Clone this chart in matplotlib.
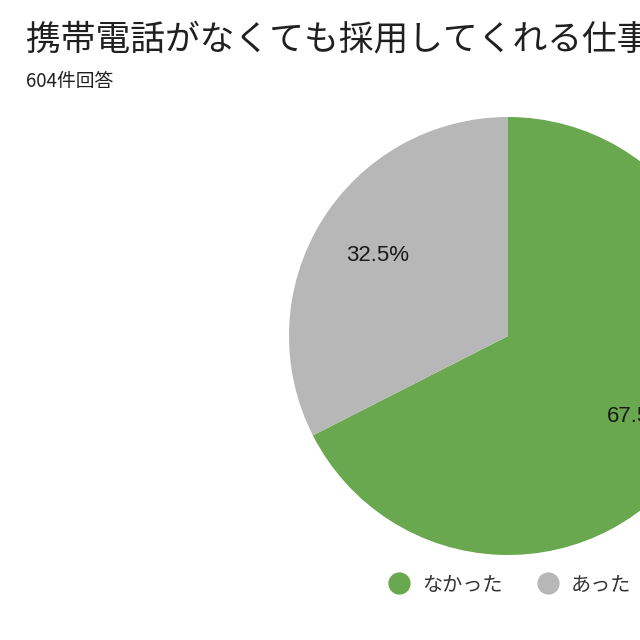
import matplotlib
matplotlib.use("Agg")
import matplotlib.pyplot as plt
from matplotlib.lines import Line2D

plt.rcParams['font.family'] = ['Noto Sans CJK JP', 'DejaVu Sans']

# data
labels = ['なかった', 'あった']
values = [67.5, 32.5]
colors = ['#6aa84f', '#b7b7b7']
title = '携帯電話がなくても採用してくれる仕事'
subtitle = '604件回答'

fig = plt.figure(figsize=(6.4, 6.4), dpi=100)
ax = fig.add_axes([0, 0, 1, 1])

# pie in pixel-like data coords (y up), partly off the right edge
ax.pie(values, colors=colors, startangle=90, counterclock=False,
       center=(508, 304), radius=219, autopct='%1.1f%%', pctdistance=0.70,
       textprops={'fontsize': 16, 'color': '#1a1a1a', 'family': ['Liberation Sans', 'DejaVu Sans']},
       wedgeprops={'linewidth': 0})
ax.set_xlim(0, 640)
ax.set_ylim(0, 640)
ax.set_aspect('equal')
ax.axis('off')

fig.text(26 / 640, 1 - 40 / 640, title, fontsize=25, color='#202020', va='center', ha='left')
fig.text(26 / 640, 1 - 82 / 640, subtitle, fontsize=13.5, color='#202020', va='center', ha='left')

handles = [Line2D([], [], marker='o', linestyle='', markersize=15,
                  markerfacecolor=c, markeredgecolor=c) for c in colors]
fig.legend(handles, labels, loc='center left', bbox_to_anchor=(389 / 640, 1 - 585 / 640),
           ncol=2, frameon=False, fontsize=14.5, handlelength=1.0, handletextpad=0.65,
           columnspacing=1.75, borderpad=0, borderaxespad=0, labelcolor='#333333')

fig.savefig('out.png', dpi=100)
